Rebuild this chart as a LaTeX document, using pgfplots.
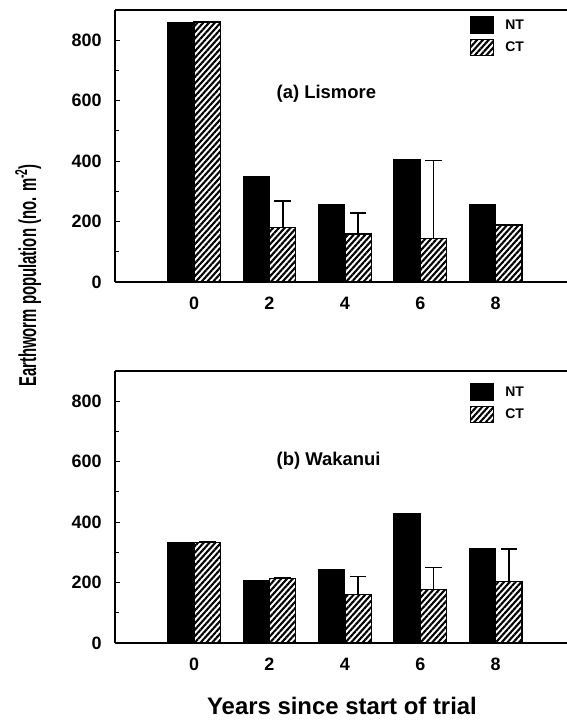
\documentclass[border=0pt]{standalone}
\usepackage{fontspec}
\setmainfont{Liberation Sans}
\usepackage{graphicx}
\usepackage{pgfplots}
\pgfplotsset{compat=1.18}
\usetikzlibrary{patterns.meta}

\pgfplotsset{
 myaxis/.style={
  scale only axis, width=452bp, height=272bp, anchor=north west,
  xmin=-2.095, xmax=9.89, ymin=0, ymax=900,
  axis x line=box, axis y line=left,
  axis line style={-, line width=1.5bp, black},
  every outer x axis line/.append style={-},
  every outer y axis line/.append style={-},
  every inner x axis line/.append style={-},
  every inner y axis line/.append style={-},
  ytick={0,200,...,800}, minor ytick={100,300,500,700},
  ytick pos=left, tick align=inside,
  major tick length=5bp, minor tick length=3.5bp,
  tick style={line width=1.2bp, black},
  xtick={0,2,4,6,8}, xtick style={draw=none},
  ticklabel style={font=\fontsize{18}{20}\selectfont\bfseries},
  /pgf/number format/assume math mode=true,
  yticklabel style={xshift=-10bp},
  xticklabel style={anchor=base, yshift=-28bp},
  bar width=0.7,
  clip=false,
  legend cell align=left,
  legend style={anchor=north west, draw=none, fill=none, inner sep=0pt, outer sep=0pt,
    row sep=4.5bp, column sep=11bp,
    font=\fontsize{14}{15}\selectfont\bfseries, nodes={inner sep=0pt, anchor=west}},
 },
 ntbar/.style={ybar, bar shift=0pt, fill=black, draw=black, line width=1bp,
   legend image code/.code={\draw[##1, line width=1.2bp] (0bp,-8.5bp) rectangle (23bp,8.5bp);}},
 ctbar/.style={ybar, bar shift=0pt, draw=black, line width=1.3bp,
   pattern={Lines[angle=48,distance=4.3bp,line width=2.1bp]}, pattern color=black,
   legend image code/.code={\draw[##1, line width=1.3bp] (0bp,-8bp) rectangle (23bp,8bp);},
   error bars/.cd, y dir=plus, y explicit, error mark=|,
   error bar style={line width=1.8bp, black, solid},
   error mark options={mark size=8.3bp, line width=1.8bp, black}},
}

\begin{document}
\begin{tikzpicture}
\useasboundingbox (0bp,0bp) rectangle (567bp,-724bp);

% (a) Lismore
\begin{axis}[myaxis, at={(115bp,-10bp)}, legend style={at={(0.7854,0.978)}}]
\addplot[ntbar] coordinates {(-0.35,860) (1.65,350) (3.65,257) (5.65,405) (7.65,255)};
\addlegendentry{NT}
\addplot[ctbar] coordinates {(0.35,860) +- (0,0) (2.35,181) +- (0,88) (4.35,159) +- (0,68) (6.35,145) +- (0,257) (8.35,189) +- (0,0)};
\addlegendentry{CT}
\node[anchor=base west, font=\fontsize{18.5}{20}\selectfont\bfseries] at (rel axis cs:0.35,0.676) {(a) Lismore};
\end{axis}

% (b) Wakanui
\begin{axis}[myaxis, at={(115bp,-371bp)}, legend style={at={(0.7854,0.956)}}]
\addplot[ntbar] coordinates {(-0.35,334) (1.65,207) (3.65,243) (5.65,428) (7.65,314)};
\addlegendentry{NT}
\addplot[ctbar] coordinates {(0.35,333) +- (0,0) (2.35,214) +- (0,0) (4.35,160) +- (0,60) (6.35,177) +- (0,73) (8.35,203) +- (0,108)};
\addlegendentry{CT}
\node[anchor=base west, font=\fontsize{18.5}{20}\selectfont\bfseries] at (rel axis cs:0.35,0.651) {(b) Wakanui};
\end{axis}

\node[anchor=base, font=\fontsize{24}{28}\selectfont\bfseries] at (342bp,-714bp) {Years since start of trial};
\node[rotate=90, anchor=base, font=\fontsize{24.5}{28}\selectfont\bfseries] at (36bp,-275.5bp)
  {\scalebox{0.61}[1]{Earthworm population (no. m\textsuperscript{-2})}};
\end{tikzpicture}
\end{document}
